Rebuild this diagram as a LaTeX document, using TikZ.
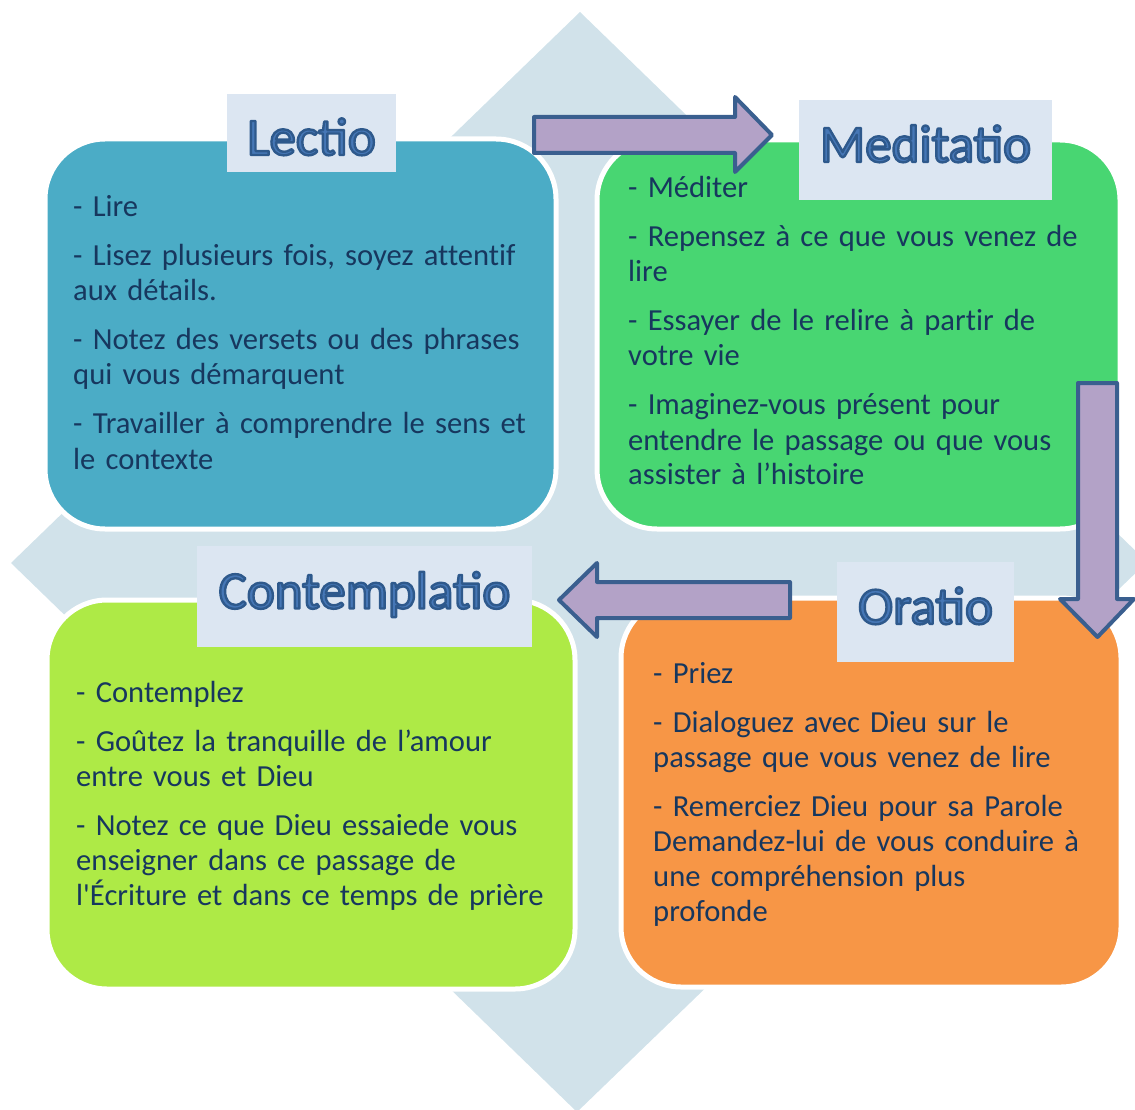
\documentclass[tikz,border=0pt]{standalone}
\usepackage{fontspec}
\setmainfont{Carlito}[Ligatures=CommonOff]
\newfontfamily\titlefont{Carlito}
\definecolor{diamondC}{HTML}{D1E2EA}
\definecolor{lectioC}{HTML}{4BACC6}
\definecolor{meditatioC}{HTML}{48D672}
\definecolor{contemplatioC}{HTML}{AEEA46}
\definecolor{oratioC}{HTML}{F79646}
\definecolor{titleboxC}{HTML}{DCE6F2}
\definecolor{titleFill}{HTML}{4677B6}
\definecolor{bodyC}{HTML}{17375E}
\definecolor{arrowFill}{HTML}{B3A2C7}
\definecolor{arrowLine}{HTML}{3A5F8F}
\newcommand\ttl[1]{{\color{titleFill}\titlefont\special{pdf:literal 2 Tr 2.4 w 0.18 0.35 0.55 RG 1 j}#1\special{pdf:literal 0 Tr 0.4 w 0 j}}}
\newcommand\sq{{\XeTeXglyph\XeTeXcharglyph"0027\relax}}
\begin{document}
\begin{tikzpicture}[x=1pt,y=-1pt,
  panel/.style={rounded corners=60pt, draw=white, line width=5pt, inner sep=0pt, outer sep=0pt},
  titlebox/.style={fill=titleboxC, inner sep=0pt, outer sep=0pt, font=\fontsize{53}{60}\selectfont},
  bodytext/.style={font=\fontsize{30.6}{35}\selectfont, text=bodyC, align=left, text width=520pt, inner sep=0pt, anchor=base west},
  blockarrow/.style={fill=arrowFill, draw=arrowLine, line width=4pt, line join=round}]
\useasboundingbox (0,0) rectangle (1135,1110);
% background diamond
\fill[diamondC] (580,12) -- (1147,562) -- (577,1112) -- (11,563) -- cycle;
% panels
\node[panel, fill=lectioC, minimum width=511pt, minimum height=390pt] (lectio) at (300.5,334) {};
\node[panel, fill=meditatioC, minimum width=523pt, minimum height=389pt] (meditatio) at (858.5,334.5) {};
\node[panel, fill=contemplatioC, minimum width=528pt, minimum height=389pt] (contemplatio) at (311,794.5) {};
\node[panel, fill=oratioC, minimum width=500pt, minimum height=389pt] (oratio) at (871,792.5) {};
% arrows
\draw[blockarrow] (534,117) -- (735,117) -- (735,97) -- (772,135) -- (735,172) -- (735,153) -- (534,153) -- cycle;
\draw[blockarrow] (1078,383) -- (1117,383) -- (1117,599) -- (1134,599) -- (1097.5,637) -- (1060,599) -- (1078,599) -- cycle;
\draw[blockarrow] (790,582) -- (597,582) -- (597,563) -- (559,600) -- (597,637) -- (597,618) -- (790,618) -- cycle;
% title boxes
\node[titlebox, minimum width=169pt, minimum height=78pt, text height=44pt, text depth=0pt] (tlectio) at (311.5,133) {\ttl{Lectio}};
\node[titlebox, minimum width=253pt, minimum height=100pt, text height=30pt, text depth=6pt] (tmeditatio) at (925.5,150) {\ttl{Meditatio}};
\node[titlebox, minimum width=335pt, minimum height=101pt, text height=30pt, text depth=6pt] (tcontemplatio) at (364.5,596.5) {\ttl{Contemplatio}};
\node[titlebox, minimum width=177pt, minimum height=100pt, text height=30pt, text depth=6pt] (toratio) at (925.5,612) {\ttl{Oratio}};
% body texts
\node[bodytext] (lectiotext) at (73,217) {- Lire\\[14pt]
- Lisez plusieurs fois, soyez attentif\\ aux détails.\\[14pt]
- Notez des versets ou des phrases\\ qui vous démarquent\\[14pt]
- Travailler à comprendre le sens et\\ le contexte};
\node[bodytext] (meditatiotext) at (628,198) {- Méditer\\[14pt]
- Repensez à ce que vous venez de\\ lire\\[14pt]
- Essayer de le relire à partir de\\ votre vie\\[14pt]
- Imaginez-vous présent pour\\ entendre le passage ou que vous\\ assister à l’histoire};
\node[bodytext] (contemplatiotext) at (76,702) {- Contemplez\\[14pt]
- Goûtez la tranquille de l’amour\\ entre vous et Dieu\\[14pt]
- Notez ce que Dieu essaiede vous\\ enseigner dans ce passage de\\ l\sq Écriture et dans ce temps de prière};
\node[bodytext] (oratiotext) at (653,683) {- Priez\\[14pt]
- Dialoguez avec Dieu sur le\\ passage que vous venez de lire\\[14pt]
- Remerciez Dieu pour sa Parole\\ Demandez-lui de vous conduire à\\ une compréhension plus\\ profonde};
\end{tikzpicture}
\end{document}
